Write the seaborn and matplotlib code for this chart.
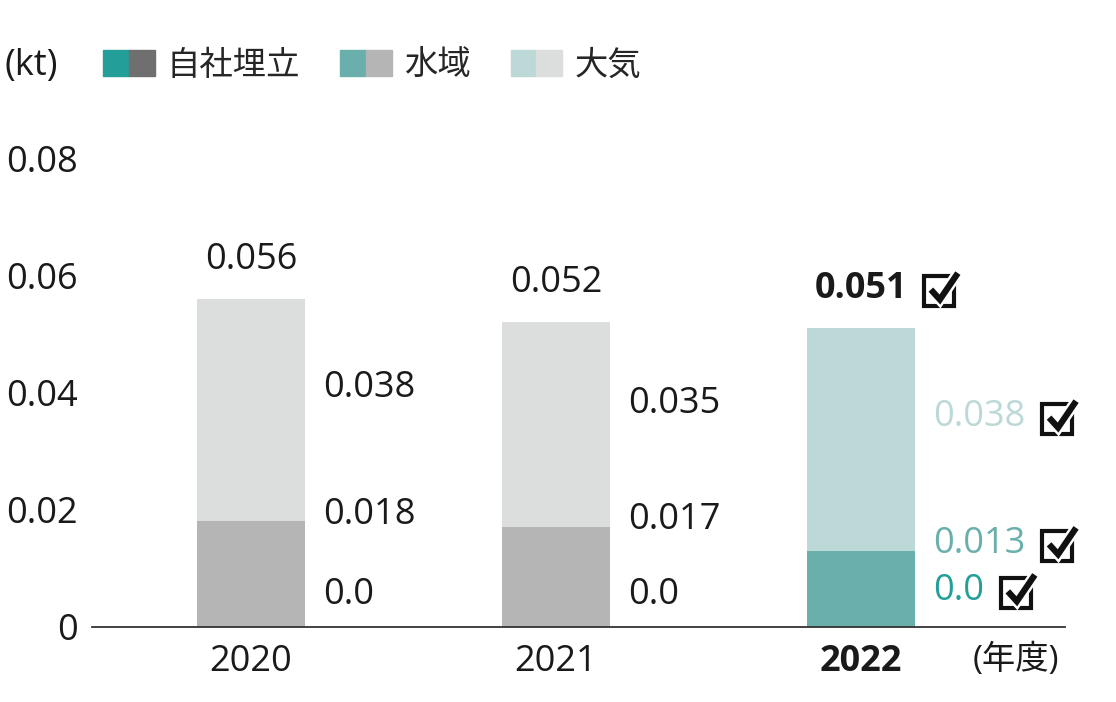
import matplotlib
matplotlib.use("Agg")
import matplotlib.pyplot as plt
import seaborn as sns
from matplotlib.patches import Patch, Rectangle
from matplotlib.lines import Line2D
from matplotlib.transforms import IdentityTransform
from matplotlib.legend_handler import HandlerTuple

years = ["2020", "2021", "2022"]
landfill = [0.0, 0.0, 0.0]
water = [0.018, 0.017, 0.013]
air = [0.038, 0.035, 0.038]
totals = [0.056, 0.052, 0.051]
yticks = [0, 0.02, 0.04, 0.06, 0.08]
ytick_labels = ["0", "0.02", "0.04", "0.06", "0.08"]

# 2020/2021 in greys, 2022 in teal
landfill_colors = ["#6f6f6f", "#6f6f6f", "#239e98"]
water_colors = ["#b4b5b4", "#b4b5b4", "#6aafab"]
air_colors = ["#dcdedd", "#dcdedd", "#bcd9d8"]

sns.set_style("white")
plt.rcParams["font.family"] = ["Open Sans", "Noto Sans CJK JP", "DejaVu Sans"]
INK = "#1a1a1a"
FS = 26

fig = plt.figure(figsize=(11.16, 7.02), dpi=100)
ax = fig.add_axes([92 / 1116, 75 / 702, (1065 - 92) / 1116, 469 / 702])

stack_top = [w + a for w, a in zip(water, air)]
bw = 0.354
sns.barplot(x=years, y=stack_top, hue=years, palette=air_colors, width=bw,
            saturation=1, linewidth=0, legend=False, ax=ax)
sns.barplot(x=years, y=water, hue=years, palette=water_colors, width=bw,
            saturation=1, linewidth=0, legend=False, ax=ax)
sns.barplot(x=years, y=landfill, hue=years, palette=landfill_colors, width=bw,
            saturation=1, linewidth=0, legend=False, ax=ax)

ax.set_xlim(-0.521, 2.669)
ax.set_ylim(0, 0.08)
ax.set_yticks(yticks)
ax.set_yticklabels(ytick_labels)
ax.set_xticks(range(len(years)))
ax.set_xticklabels(years)
ax.tick_params(axis="y", length=0, pad=10, labelsize=FS, labelcolor=INK)
ax.tick_params(axis="x", length=0, pad=12, labelsize=FS, labelcolor=INK)
for lbl in ax.get_xticklabels():
    if lbl.get_text() == "2022":
        lbl.set_fontweight("bold")
ax.set_xlabel("")
ax.set_ylabel("")
for s in ["top", "right", "left"]:
    ax.spines[s].set_visible(False)
ax.spines["bottom"].set_color("#333333")
ax.spines["bottom"].set_linewidth(1.3)

checked = []
lx = bw / 2 + 0.06
for i, yr in enumerate(years):
    is_new = yr == "2022"
    c_air = air_colors[i] if is_new else INK
    c_wat = water_colors[i] if is_new else INK
    c_lf = landfill_colors[i] if is_new else INK
    t1 = ax.text(i + lx, water[i] + air[i] * 0.6, f"{air[i]:.3f}", fontsize=FS,
                 color=c_air, va="center", ha="left")
    t2 = ax.annotate(f"{water[i]:.3f}", (i + lx, water[i]), xytext=(0, 5),
                     textcoords="offset points", fontsize=FS, color=c_wat,
                     va="center", ha="left")
    t3 = ax.annotate(f"{landfill[i]:.1f}", (i + lx, 0), xytext=(0, 23 if not is_new else 26),
                     textcoords="offset points", fontsize=FS, color=c_lf,
                     va="center", ha="left")
    t4 = ax.annotate(f"{totals[i]:.3f}", (i, totals[i]), xytext=(0, 28),
                     textcoords="offset points", fontsize=FS,
                     fontweight="bold" if is_new else "normal",
                     color=INK, va="center", ha="center")
    if is_new:
        checked += [t1, t2, t3, t4]

ax.annotate("(年度)", (1, 0), xycoords="axes fraction", xytext=(-4, -24),
            textcoords="offset points", fontsize=24, color=INK,
            ha="right", va="center")

fig.text(5 / 1116, 1 - 66 / 702, "(kt)", fontsize=FS, color=INK,
         va="center", ha="left")
handles = [(Patch(color=landfill_colors[2]), Patch(color=landfill_colors[0])),
           (Patch(color=water_colors[2]), Patch(color=water_colors[0])),
           (Patch(color=air_colors[2]), Patch(color=air_colors[0]))]
fig.legend(handles, ["自社埋立", "水域", "大気"],
           handler_map={tuple: HandlerTuple(ndivide=None, pad=0)},
           loc="center left", bbox_to_anchor=(103 / 1116, 1 - 66 / 702),
           ncol=3, frameon=False, fontsize=24, handlelength=1.55,
           handleheight=0.8, handletextpad=0.36, columnspacing=1.2,
           borderpad=0, borderaxespad=0)

# check boxes drawn in pixel space right after each 2022 label
fig.canvas.draw()
renderer = fig.canvas.get_renderer()
for t in checked:
    bb = t.get_window_extent(renderer)
    s = 30
    x0 = bb.x1 + 17
    y0 = (bb.y0 + bb.y1) / 2 - s / 2 - 2
    fig.add_artist(Rectangle((x0, y0), s, s, transform=IdentityTransform(),
                             fill=False, ec="#111111", lw=3))
    px = [x0 + 0.22 * s, x0 + 0.52 * s, x0 + 1.12 * s]
    py = [y0 + 0.55 * s, y0 + 0.22 * s, y0 + 1.1 * s]
    fig.add_artist(Line2D(px, py, transform=IdentityTransform(), color="white",
                          lw=8, solid_joinstyle="miter", solid_capstyle="butt"))
    fig.add_artist(Line2D(px, py, transform=IdentityTransform(), color="#111111",
                          lw=4.5, solid_joinstyle="miter", solid_capstyle="butt"))

fig.savefig("out.png", dpi=100)
